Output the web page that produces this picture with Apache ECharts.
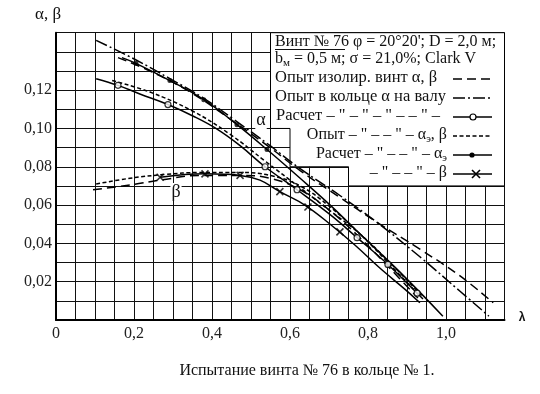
<!DOCTYPE html>
<html><head><meta charset="utf-8">
<script src="https://cdn.jsdelivr.net/npm/echarts@6/dist/echarts.min.js"></script>
<style>html,body{margin:0;padding:0;background:#fff}#c{width:540px;height:394px}</style>
</head><body><div id="c"></div>
<script>
// ---- tick labels ----
const xTickLabels = ['0', '0,2', '0,4', '0,6', '0,8', '1,0'];
const yTickLabels = ['0,02', '0,04', '0,06', '0,08', '0,10', '0,12'];

// ---- series data [lambda, value] ----
const isoAlpha = [[0.159,0.137],[0.241,0.130],[0.344,0.119],[0.446,0.105],[0.549,0.090],[0.626,0.078],[0.728,0.064],[0.823,0.051],[0.933,0.037],[1.036,0.023],[1.121,0.009]];
const isoBeta = [[0.095,0.068],[0.190,0.0705],[0.267,0.073],[0.369,0.0755],[0.472,0.0755],[0.549,0.074],[0.626,0.068],[0.703,0.057],[0.779,0.043],[0.856,0.027],[0.928,0.0115]];
const ringShaftExp = [[0.103,0.146],[0.203,0.136],[0.292,0.126],[0.377,0.116],[0.454,0.105],[0.549,0.091],[0.626,0.079],[0.728,0.065],[0.823,0.051],[0.933,0.033],[1.036,0.015],[1.110,0.002]];
const ringShaftCalc = [[0.103,0.126],[0.159,0.1225],[0.215,0.118],[0.287,0.1125],[0.351,0.1065],[0.41,0.100],[0.472,0.091],[0.536,0.080],[0.618,0.068],[0.703,0.055],[0.772,0.043],[0.851,0.029],[0.926,0.014],[0.941,0.011]];
const ringShaftCalcMarks = [[0.159,0.1225],[0.287,0.1125],[0.536,0.080],[0.618,0.068],[0.772,0.043],[0.851,0.029],[0.926,0.014]];
const expAlphaE = [[0.144,0.125],[0.241,0.119],[0.351,0.109],[0.446,0.097],[0.536,0.083],[0.626,0.069],[0.703,0.057],[0.779,0.045],[0.856,0.030],[0.941,0.012]];
const expBeta = [[0.103,0.071],[0.190,0.074],[0.279,0.076],[0.369,0.077],[0.472,0.077],[0.549,0.0755],[0.626,0.070],[0.703,0.059],[0.779,0.045],[0.856,0.029],[0.933,0.0125]];
const calcAlphaE = [[0.169,0.137],[0.205,0.134],[0.292,0.125],[0.379,0.115],[0.464,0.102],[0.541,0.089],[0.626,0.074],[0.703,0.060],[0.779,0.045],[0.882,0.025],[0.992,0.002]];
const calcAlphaEMarks = [[0.205,0.134],[0.292,0.125],[0.379,0.115],[0.464,0.102],[0.541,0.089]];
const calcBeta = [[0.267,0.0745],[0.382,0.0763],[0.472,0.0755],[0.523,0.073],[0.574,0.067],[0.638,0.060],[0.703,0.050],[0.767,0.039],[0.831,0.027],[0.895,0.016],[0.933,0.009]];
const calcBetaMarks = [[0.267,0.0745],[0.382,0.0763],[0.472,0.0755],[0.574,0.067],[0.646,0.059],[0.728,0.046]];

// legend box outline in data units
const boxOutline = [[0.55,0.15],[1.15,0.15],[1.15,0.07],[0.75,0.07],[0.75,0.08],[0.60,0.08],[0.60,0.10],[0.55,0.10]];

const FONT = "'Liberation Serif','Times New Roman',serif";
const LW = 1.5;
const chart = echarts.init(document.getElementById('c'), null, {renderer:'canvas'});

function lineSeries(data, type) {
  return {type:'line', data:data, smooth:0.4, showSymbol:false, symbol:'none', z:3,
    lineStyle:{color:'#000', width:LW, type:type}, animation:false};
}
const xMark = 'path://M0,0L10,10M10,0L0,10';

const option = {
  animation:false,
  backgroundColor:'#fff',
  grid:{left:56, right:35.5, top:32.7, bottom:74},
  xAxis:{type:'value', min:0, max:1.15, interval:0.05,
    axisLine:{show:true, onZero:false, lineStyle:{color:'#000', width:2}},
    axisTick:{show:false},
    splitLine:{show:true, lineStyle:{color:'#111', width:1}},
    axisLabel:{fontFamily:FONT, fontSize:16, color:'#222', margin:6,
      formatter:function(v){const k=Math.round(v*20); if(k%4!==0) return ''; const i=k/4; return i<xTickLabels.length?xTickLabels[i]:'';}}
  },
  yAxis:{type:'value', min:0, max:0.15, interval:0.01,
    axisLine:{show:true, onZero:false, lineStyle:{color:'#000', width:2}},
    axisTick:{show:false},
    splitLine:{show:true, lineStyle:{color:'#111', width:1}},
    axisLabel:{fontFamily:FONT, fontSize:16, color:'#222', margin:4,
      formatter:function(v){const k=Math.round(v*100); if(k%2!==0||k<2||k>12) return ''; return yTickLabels[k/2-1];}}
  },
  series:[
    lineSeries(isoAlpha,[9,5]),
    lineSeries(isoBeta,[9,5]),
    lineSeries(ringShaftExp,[12,3,2,3]),
    lineSeries(ringShaftCalc,'solid'),
    lineSeries(expAlphaE,[4,2.5]),
    lineSeries(expBeta,[4,2.5]),
    lineSeries(calcAlphaE,'solid'),
    lineSeries(calcBeta,'solid'),
    {type:'scatter', data:ringShaftCalcMarks, symbol:'circle', symbolSize:6, z:4,
      itemStyle:{color:'#fff', borderColor:'#000', borderWidth:1.2}},
    {type:'scatter', data:calcAlphaEMarks, symbol:'circle', symbolSize:5, z:4,
      itemStyle:{color:'#000'}},
    {type:'scatter', data:calcBetaMarks, symbol:xMark, symbolSize:7, z:4,
      itemStyle:{color:'none', borderColor:'#000', borderWidth:1.6}}
  ]
};
chart.setOption(option);

// ---- overlay graphics ----
const pts = boxOutline.map(p => chart.convertToPixel({gridIndex:0}, p));
const g = [];
g.push({type:'polygon', z:1, shape:{points:pts}, style:{fill:'#fff', stroke:'#000', lineWidth:1}});

function txt(x, y, text, align, size, extra) {
  const o = {type:'text', z:10, x:x, y:y, style:Object.assign({text:text, font:(size||16)+'px '+FONT, fill:'#111', textAlign:align||'left', textVerticalAlign:'middle'}, extra||{})};
  g.push(o);
}
function richTxt(x, y, text, align) {
  g.push({type:'text', z:10, x:x, y:y, style:{text:text, textAlign:align, textVerticalAlign:'middle', fill:'#111',
    rich:{a:{fontFamily:FONT, fontSize:16, fill:'#111'}, s:{fontFamily:FONT, fontSize:11, fill:'#111', padding:[8,0,0,0]}}}});
}
txt(275, 42, 'Винт № 76 φ = 20°20\'; D = 2,0 м;', 'left', 16);
g.push({type:'line', z:10, shape:{x1:275, y1:49.5, x2:345, y2:49.5}, style:{stroke:'#111', lineWidth:1}});
richTxt(275, 59, '{a|b}{s|м}{a| = 0,5 м; σ = 21,0%; Clark V}', 'left');
txt(275, 78, 'Опыт изолир. винт α, β', 'left', 16.5);
txt(275, 97, 'Опыт в кольце α на валу', 'left', 16.5);
txt(276, 116, 'Расчет – " – " – " – – " –', 'left', 16.5);
richTxt(447, 135, '{a|Опыт – " – – " – α}{s|э}{a|, β}', 'right');
richTxt(447, 154, '{a|Расчет – " – – " – α}{s|э}', 'right');
txt(447, 173, '– " – – " – β', 'right', 16);

// legend samples
function sample(y, dash) { g.push({type:'line', z:10, shape:{x1:453, y1:y, x2:492, y2:y}, style:{stroke:'#000', lineWidth:LW, lineDash:dash}}); }
sample(79, [9,5]);
sample(98, [12,3,2,3]);
sample(117, null);
g.push({type:'circle', z:11, shape:{cx:473, cy:117, r:3}, style:{fill:'#fff', stroke:'#000', lineWidth:1.2}});
sample(136, [4,2.5]);
sample(155, null);
g.push({type:'circle', z:11, shape:{cx:472, cy:155, r:2.6}, style:{fill:'#000'}});
sample(174, null);
g.push({type:'line', z:11, shape:{x1:472, y1:170, x2:480, y2:178}, style:{stroke:'#000', lineWidth:1.6}});
g.push({type:'line', z:11, shape:{x1:480, y1:170, x2:472, y2:178}, style:{stroke:'#000', lineWidth:1.6}});

// curve labels
txt(261, 120, 'α', 'center', 18, {backgroundColor:'#fff', padding:[0,1]});
txt(176, 192, 'β', 'center', 18, {backgroundColor:'#fff', padding:[0,1]});
// axis titles
txt(35, 15, 'α, β', 'left', 17);
txt(522, 318, 'λ', 'center', 19, {fontWeight:'bold'});
// caption
txt(307, 371, 'Испытание винта № 76 в кольце № 1.', 'center', 16);

chart.setOption({graphic:{elements:g}});
</script>
</body></html>
